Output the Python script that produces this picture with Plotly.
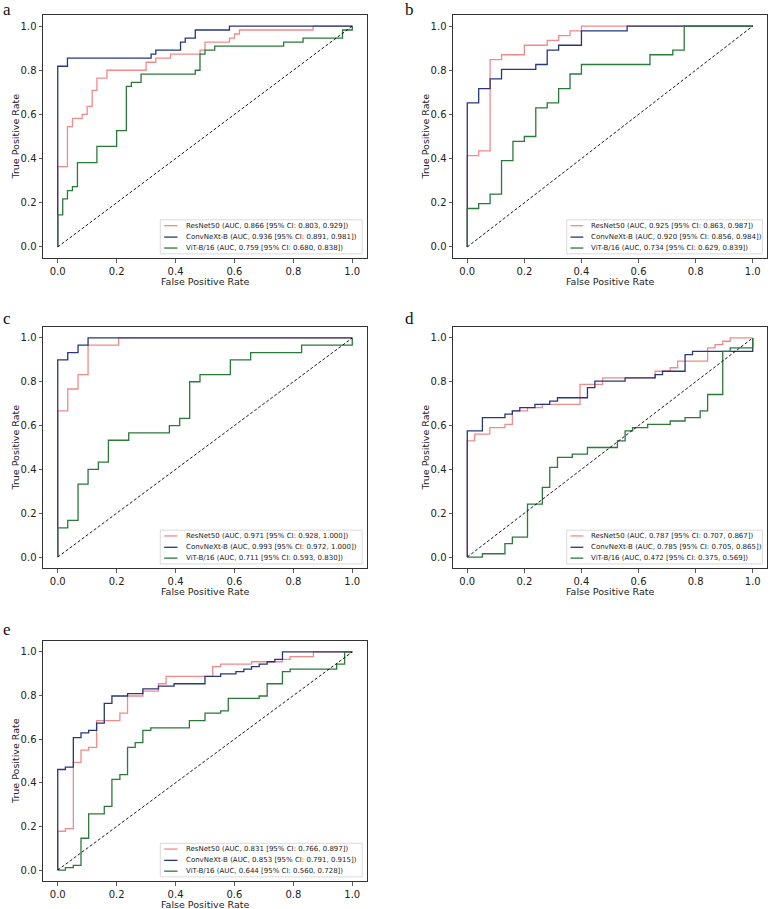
import plotly.graph_objects as go

# ---------------- data ----------------
MODELS = ["ResNet50", "ConvNeXt-B", "ViT-B/16"]
PANEL_LABELS = ["a", "b", "c", "d", "e"]
TICKS = [0.0, 0.2, 0.4, 0.6, 0.8, 1.0]
TICK_TEXT = ["0.0", "0.2", "0.4", "0.6", "0.8", "1.0"]
X_TITLE = "False Positive Rate"
Y_TITLE = "True Positive Rate"

AUC_A = ["0.866", "0.936", "0.759"]
CI_A = [("0.803", "0.929"), ("0.891", "0.981"), ("0.680", "0.838")]
AUC_B = ["0.925", "0.920", "0.734"]
CI_B = [("0.863", "0.987"), ("0.856", "0.984"), ("0.629", "0.839")]
AUC_C = ["0.971", "0.993", "0.711"]
CI_C = [("0.928", "1.000"), ("0.972", "1.000"), ("0.593", "0.830")]
AUC_D = ["0.787", "0.785", "0.472"]
CI_D = [("0.707", "0.867"), ("0.705", "0.865"), ("0.375", "0.569")]
AUC_E = ["0.831", "0.853", "0.644"]
CI_E = [("0.766", "0.897"), ("0.791", "0.915"), ("0.560", "0.728")]

# panel a
A_RES_FPR = [0, 0, 0.033, 0.05, 0.083, 0.1, 0.117, 0.133, 0.167, 0.3, 0.333, 0.383, 0.483, 0.5, 0.583, 0.6, 0.617, 0.867, 1.0]
A_RES_TPR = [0, 0.364, 0.545, 0.582, 0.6, 0.636, 0.709, 0.764, 0.8, 0.836, 0.855, 0.873, 0.891, 0.927, 0.945, 0.964, 0.982, 1.0, 1.0]
A_CNX_FPR = [0, 0, 0.033, 0.317, 0.333, 0.417, 0.433, 0.467, 0.583, 1.0]
A_CNX_TPR = [0, 0.818, 0.855, 0.873, 0.891, 0.927, 0.945, 0.982, 1.0, 1.0]
A_VIT_FPR = [0, 0, 0.017, 0.033, 0.05, 0.067, 0.133, 0.2, 0.233, 0.25, 0.283, 0.467, 0.483, 0.5, 0.533, 0.767, 0.833, 0.967, 1.0]
A_VIT_TPR = [0, 0.145, 0.218, 0.255, 0.273, 0.382, 0.455, 0.527, 0.727, 0.745, 0.782, 0.8, 0.873, 0.891, 0.909, 0.927, 0.945, 0.982, 1.0]

# panel b
B_RES_FPR = [0, 0, 0.04, 0.08, 0.12, 0.2, 0.28, 0.32, 0.36, 0.4, 1.0]
B_RES_TPR = [0, 0.413, 0.435, 0.848, 0.870, 0.913, 0.935, 0.957, 0.978, 1.0, 1.0]
B_CNX_FPR = [0, 0, 0.04, 0.08, 0.12, 0.24, 0.28, 0.32, 0.4, 0.56, 1.0]
B_CNX_TPR = [0, 0.652, 0.717, 0.761, 0.804, 0.826, 0.891, 0.913, 0.978, 1.0, 1.0]
B_VIT_FPR = [0, 0, 0.04, 0.08, 0.12, 0.16, 0.2, 0.24, 0.28, 0.32, 0.36, 0.4, 0.64, 0.72, 0.76, 1.0]
B_VIT_TPR = [0, 0.174, 0.196, 0.239, 0.391, 0.478, 0.5, 0.630, 0.652, 0.717, 0.783, 0.826, 0.870, 0.891, 1.0, 1.0]

# panel c
C_RES_FPR = [0, 0, 0.034, 0.069, 0.103, 0.207, 1.0]
C_RES_TPR = [0, 0.667, 0.767, 0.833, 0.967, 1.0, 1.0]
C_CNX_FPR = [0, 0, 0.034, 0.069, 0.103, 1.0]
C_CNX_TPR = [0, 0.9, 0.933, 0.967, 1.0, 1.0]
C_VIT_FPR = [0, 0, 0.034, 0.069, 0.103, 0.138, 0.172, 0.241, 0.379, 0.414, 0.448, 0.483, 0.586, 0.655, 0.828, 1.0]
C_VIT_TPR = [0, 0.133, 0.167, 0.333, 0.4, 0.433, 0.533, 0.567, 0.6, 0.633, 0.8, 0.833, 0.9, 0.933, 0.967, 1.0]

# panel d
D_RES_FPR = [0, 0, 0.026, 0.079, 0.132, 0.158, 0.211, 0.263, 0.395, 0.474, 0.658, 0.711, 0.737, 0.842, 0.868, 0.895, 0.921, 1.0]
D_RES_TPR = [0, 0.530, 0.561, 0.591, 0.606, 0.667, 0.682, 0.697, 0.788, 0.818, 0.848, 0.864, 0.894, 0.955, 0.970, 0.985, 1.0, 1.0]
D_CNX_FPR = [0, 0, 0.053, 0.132, 0.158, 0.184, 0.237, 0.289, 0.316, 0.421, 0.447, 0.553, 0.658, 0.684, 0.763, 0.789, 1.0, 1.0]
D_CNX_TPR = [0, 0.576, 0.636, 0.652, 0.667, 0.682, 0.697, 0.712, 0.727, 0.773, 0.803, 0.818, 0.833, 0.848, 0.924, 0.939, 0.939, 1.0]
D_VIT_FPR = [0, 0.053, 0.132, 0.158, 0.211, 0.263, 0.289, 0.316, 0.368, 0.421, 0.526, 0.553, 0.579, 0.632, 0.711, 0.763, 0.816, 0.842, 0.895, 0.921, 1.0]
D_VIT_TPR = [0, 0.015, 0.061, 0.091, 0.242, 0.318, 0.409, 0.455, 0.470, 0.5, 0.530, 0.576, 0.591, 0.606, 0.621, 0.636, 0.667, 0.742, 0.939, 0.955, 1.0]

# panel e
E_RES_FPR = [0, 0, 0.026, 0.053, 0.079, 0.105, 0.132, 0.211, 0.237, 0.289, 0.342, 0.368, 0.526, 0.553, 0.658, 0.763, 0.789, 0.868, 1.0]
E_RES_TPR = [0, 0.178, 0.19, 0.494, 0.55, 0.562, 0.685, 0.719, 0.798, 0.82, 0.854, 0.888, 0.933, 0.944, 0.955, 0.966, 0.978, 1.0, 1.0]
E_CNX_FPR = [0, 0, 0.026, 0.053, 0.079, 0.105, 0.132, 0.158, 0.184, 0.237, 0.289, 0.342, 0.395, 0.5, 0.553, 0.605, 0.632, 0.658, 0.684, 0.711, 0.737, 0.763, 1.0]
E_CNX_TPR = [0, 0.461, 0.472, 0.607, 0.629, 0.64, 0.674, 0.764, 0.798, 0.809, 0.831, 0.843, 0.854, 0.888, 0.899, 0.91, 0.921, 0.933, 0.944, 0.955, 0.966, 1.0, 1.0]
E_VIT_FPR = [0, 0.026, 0.053, 0.079, 0.105, 0.158, 0.184, 0.211, 0.237, 0.263, 0.289, 0.316, 0.447, 0.5, 0.553, 0.579, 0.684, 0.711, 0.763, 0.789, 0.947, 0.974, 1.0]
E_VIT_TPR = [0, 0.011, 0.022, 0.146, 0.258, 0.292, 0.416, 0.438, 0.562, 0.584, 0.64, 0.652, 0.685, 0.719, 0.73, 0.787, 0.798, 0.854, 0.91, 0.921, 0.944, 1.0, 1.0]

DIAG = [0, 1]

# ---------------- styling / layout ----------------
W, H = 777, 909
COLORS = ["#f28a8a", "#27367d", "#2a7a3a"]
FONT = "DejaVu Sans"

panels = [
    ([(A_RES_FPR, A_RES_TPR), (A_CNX_FPR, A_CNX_TPR), (A_VIT_FPR, A_VIT_TPR)], AUC_A, CI_A),
    ([(B_RES_FPR, B_RES_TPR), (B_CNX_FPR, B_CNX_TPR), (B_VIT_FPR, B_VIT_TPR)], AUC_B, CI_B),
    ([(C_RES_FPR, C_RES_TPR), (C_CNX_FPR, C_CNX_TPR), (C_VIT_FPR, C_VIT_TPR)], AUC_C, CI_C),
    ([(D_RES_FPR, D_RES_TPR), (D_CNX_FPR, D_CNX_TPR), (D_VIT_FPR, D_VIT_TPR)], AUC_D, CI_D),
    ([(E_RES_FPR, E_RES_TPR), (E_CNX_FPR, E_CNX_TPR), (E_VIT_FPR, E_VIT_TPR)], AUC_E, CI_E),
]

# plot-area pixel boxes (left, right, top, bottom)
boxes = [
    (43, 367, 15, 258),
    (453, 767, 15, 258),
    (43, 367, 327, 568),
    (453, 767, 327, 568),
    (43, 367, 641, 881),
]
label_pos = [(1, 9), (403, 9), (1, 318), (403, 318), (1, 629)]

fig = go.Figure()
layout = dict(
    width=W, height=H, margin=dict(l=0, r=0, t=0, b=0),
    paper_bgcolor="white", plot_bgcolor="white", showlegend=False,
    font=dict(family=FONT, size=10, color="#222222"),
)
shapes = []
annotations = []

for i, ((curves, aucs, cis), (l, r, t, b)) in enumerate(zip(panels, boxes)):
    n = "" if i == 0 else str(i + 1)
    xa, ya = "x" + n, "y" + n
    for k, (fpr, tpr) in enumerate(curves):
        fig.add_trace(go.Scatter(
            x=fpr, y=tpr, mode="lines", line=dict(color=COLORS[k], width=1.3, shape="hv"),
            xaxis=xa, yaxis=ya, name=MODELS[k], hoverinfo="skip"))
    fig.add_trace(go.Scatter(
        x=DIAG, y=DIAG, mode="lines", line=dict(color="black", width=0.9, dash="3px,2px"),
        xaxis=xa, yaxis=ya, hoverinfo="skip"))

    axcommon = dict(
        range=[-0.05, 1.05], tickvals=TICKS, ticktext=TICK_TEXT, ticks="outside",
        ticklen=3.5, tickwidth=0.8, tickcolor="#333333", showline=True, linecolor="#333333",
        linewidth=1, mirror=True, showgrid=False, zeroline=False, automargin=False,
        tickfont=dict(family=FONT, size=10, color="#222222"),
    )
    layout["xaxis" + n] = dict(axcommon, domain=[l / W, r / W], anchor=ya)
    layout["yaxis" + n] = dict(axcommon, domain=[1 - b / H, 1 - t / H], anchor=xa)

    pw, ph = r - l, b - t
    xr, yr = xa + " domain", ya + " domain"

    # axis titles
    if H - b > 26:
        annotations.append(dict(xref=xr, yref=yr, x=0.5, y=-23.5 / ph, text=X_TITLE, showarrow=False,
                                xanchor="center", yanchor="middle", borderpad=0,
                                font=dict(family=FONT, size=9.5, color="#222222")))
    else:
        annotations.append(dict(xref=xr, yref="paper", x=0.5, y=0, text=X_TITLE, showarrow=False,
                                xanchor="center", yanchor="bottom", borderpad=0,
                                font=dict(family=FONT, size=9.5, color="#222222")))
    annotations.append(dict(xref=xr, yref=yr, x=-28 / pw, y=0.5, text=Y_TITLE, showarrow=False,
                            xanchor="center", yanchor="middle", textangle=-90,
                            font=dict(family=FONT, size=9.5, color="#222222")))

    # legend box (inside lower right)
    shapes.append(dict(type="rect", xref=xr, yref=yr, x0=0.362, x1=0.985, y0=0.017, y1=0.157,
                       line=dict(color="#d0d0d0", width=0.8), fillcolor="rgba(255,255,255,0.85)", layer="above"))
    ys = [0.133, 0.086, 0.041]
    for k in range(3):
        shapes.append(dict(type="line", xref=xr, yref=yr, x0=0.374, x1=0.415, y0=ys[k], y1=ys[k],
                           line=dict(color=COLORS[k], width=1.3), layer="above"))
        txt = f"{MODELS[k]} (AUC, {aucs[k]} [95% CI: {cis[k][0]}, {cis[k][1]}])"
        annotations.append(dict(xref=xr, yref=yr, x=0.434, y=ys[k], text=txt, showarrow=False,
                                xanchor="left", yanchor="middle",
                                font=dict(family=FONT, size=7, color="#222222")))

    lx, ly = label_pos[i]
    annotations.append(dict(xref="paper", yref="paper", x=lx / W, y=1 - ly / H, text=PANEL_LABELS[i],
                            showarrow=False, xanchor="left", yanchor="middle",
                            font=dict(family="Liberation Serif", size=17, color="#111111")))

layout["shapes"] = shapes
layout["annotations"] = annotations
fig.update_layout(**layout)
fig.write_html(
    "out.html",
    config={"displayModeBar": False, "staticPlot": True},
    post_script="document.body.style.margin='0';document.body.style.overflow='hidden';",
)
